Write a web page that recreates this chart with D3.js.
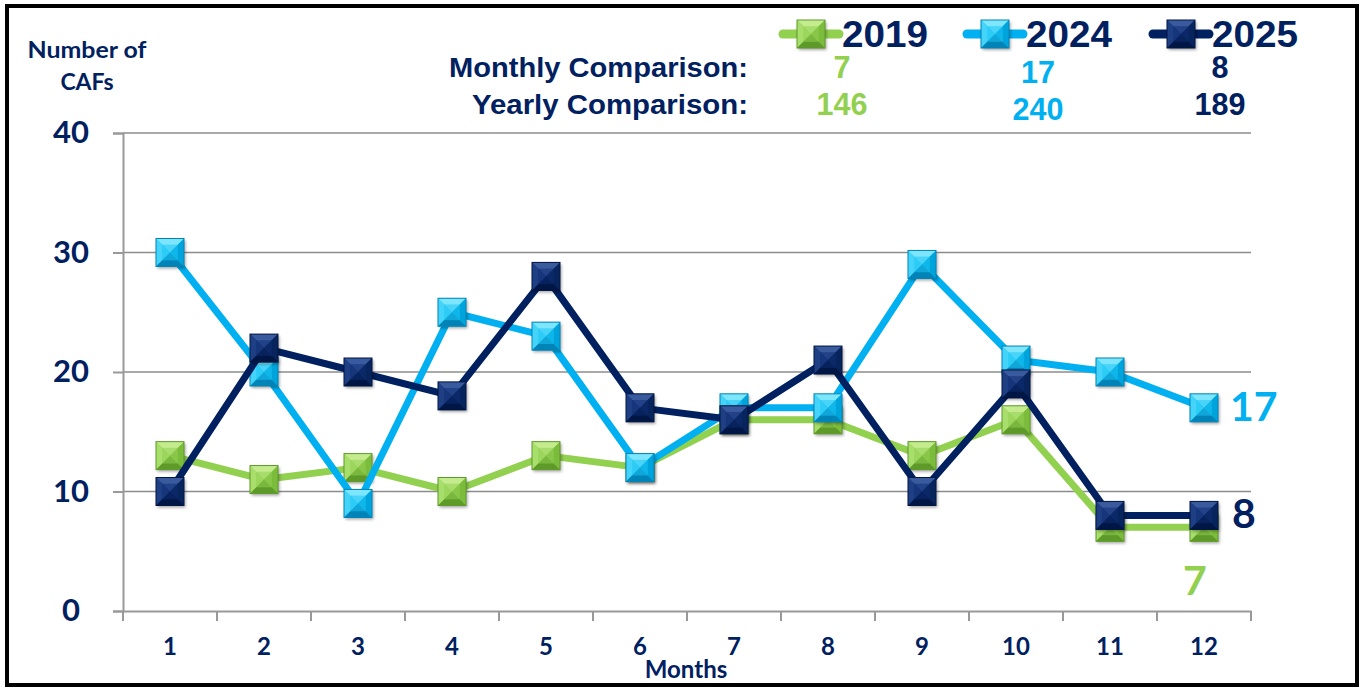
<!DOCTYPE html>
<html>
<head>
<meta charset="utf-8">
<script src="https://cdn.jsdelivr.net/npm/d3@7"></script>
<style>
  body { margin: 0; background: #fff; }
  svg { display: block; }
  .tick text { font-family: Lato, "Open Sans", sans-serif; font-weight: 700; fill: #002060; }
</style>
</head>
<body>
<div id="chart"></div>
<script>
// data
var months = ['1', '2', '3', '4', '5', '6', '7', '8', '9', '10', '11', '12'];
var years = ['2019', '2024', '2025'];
var values2019 = [13, 11, 12, 10, 13, 12, 16, 16, 13, 16, 7, 7];
var values2024 = [30, 20, 9, 25, 23, 12, 17, 17, 29, 21, 20, 17];
var values2025 = [10, 22, 20, 18, 28, 17, 16, 21, 10, 19, 8, 8];
var monthlyComparison = [7, 17, 8];
var yearlyComparison = [146, 240, 189];
var yTicks = [0, 10, 20, 30, 40];

var W = 1363, H = 688;
var margin = {top: 133, right: 112, bottom: 77, left: 123};
var width = W - margin.left - margin.right,
    height = H - margin.top - margin.bottom;

var navy = '#002060';
var colors = {
  '2019': {line: '#92D050', base: '#92d050', top: '#c4ec8e', left: '#a8de6c', right: '#7cbc3c', bottom: '#5e9a2a'},
  '2024': {line: '#00B0F0', base: '#1cc4f4', top: '#7ee6fc', left: '#44d4fa', right: '#00a4dc', bottom: '#0084b8'},
  '2025': {line: '#002060', base: '#0e2e72', top: '#3a5a9e', left: '#1f3f84', right: '#08245c', bottom: '#001644'}
};

var series = [
  {name: '2019', values: values2019},
  {name: '2024', values: values2024},
  {name: '2025', values: values2025}
];

var svg = d3.select('#chart').append('svg')
  .attr('width', W)
  .attr('height', H);

// frame
svg.append('rect')
  .attr('x', 7).attr('y', 6)
  .attr('width', 1350).attr('height', 679)
  .attr('fill', 'none')
  .attr('stroke', '#000')
  .attr('stroke-width', 4);

var defs = svg.append('defs');
var shadow = defs.append('filter').attr('id', 'shadow')
  .attr('x', '-30%').attr('y', '-30%').attr('width', '160%').attr('height', '160%');
shadow.append('feDropShadow')
  .attr('dx', 1.5).attr('dy', 2).attr('stdDeviation', 1.5)
  .attr('flood-color', '#000').attr('flood-opacity', 0.35);

var chart = svg.append('g')
  .attr('transform', 'translate(' + margin.left + ',' + margin.top + ')');

var x = d3.scaleBand().domain(months).range([0, width]);
var y = d3.scaleLinear().domain([0, 40]).range([height, 0]);

// gridlines
chart.append('g').selectAll('line')
  .data(yTicks.slice(1))
  .enter().append('line')
  .attr('x1', 0).attr('x2', width)
  .attr('y1', function(d) { return y(d); })
  .attr('y2', function(d) { return y(d); })
  .attr('stroke', '#8c8c8c')
  .attr('stroke-width', 1.5);

// y axis
var yAxis = chart.append('g')
  .call(d3.axisLeft(y).tickValues(yTicks).tickSize(10).tickPadding(28));
yAxis.select('.domain').attr('stroke', '#999').attr('stroke-width', 2);
yAxis.selectAll('.tick line').attr('stroke', '#999').attr('stroke-width', 2);
yAxis.selectAll('.tick text')
  .attr('font-size', 31)
  .attr('text-anchor', 'middle')
  .attr('x', -52);

// x axis, ticks sit between the months
var xAxis = chart.append('g')
  .attr('transform', 'translate(0,' + height + ')')
  .call(d3.axisBottom(x).tickSize(0).tickPadding(27));
xAxis.select('.domain').attr('stroke', '#999').attr('stroke-width', 2);
xAxis.selectAll('.tick text').attr('font-size', 24);
xAxis.append('g').selectAll('line')
  .data(d3.range(months.length + 1))
  .enter().append('line')
  .attr('x1', function(i) { return i * x.step(); })
  .attr('x2', function(i) { return i * x.step(); })
  .attr('y1', 0).attr('y2', 10)
  .attr('stroke', '#999')
  .attr('stroke-width', 2);

svg.append('text')
  .attr('x', 686).attr('y', 678)
  .attr('text-anchor', 'middle')
  .attr('font-family', 'Lato, sans-serif')
  .attr('font-weight', 700)
  .attr('font-size', 24)
  .attr('fill', navy)
  .text('Months');

var yLabel = svg.append('text')
  .attr('text-anchor', 'middle')
  .attr('font-family', 'Lato, sans-serif')
  .attr('font-weight', 700)
  .attr('font-size', 23)
  .attr('fill', navy);
yLabel.append('tspan').attr('x', 87).attr('y', 58)
  .attr('textLength', 119).attr('lengthAdjust', 'spacingAndGlyphs').text('Number of');
yLabel.append('tspan').attr('x', 87).attr('y', 90).text('CAFs');

// bevelled square marker
function marker(g, c, s) {
  var h = s / 2, b = s * 0.22;
  g.append('rect')
    .attr('x', -h).attr('y', -h).attr('width', s).attr('height', s)
    .attr('fill', c.base)
    .attr('filter', 'url(#shadow)');
  var facets = [
    {pts: [[-h, -h], [h, -h], [0, 0]], fill: c.top},
    {pts: [[-h, -h], [-h, h], [0, 0]], fill: c.left},
    {pts: [[h, -h], [h, h], [0, 0]], fill: c.right},
    {pts: [[-h, h], [h, h], [0, 0]], fill: c.bottom}
  ];
  g.selectAll('polygon')
    .data(facets)
    .enter().append('polygon')
    .attr('points', function(d) { return d.pts.map(function(p) { return p.join(','); }).join(' '); })
    .attr('fill', function(d) { return d.fill; });
  g.append('rect')
    .attr('x', -h + b).attr('y', -h + b).attr('width', s - 2 * b).attr('height', s - 2 * b)
    .attr('fill', c.base)
    .attr('opacity', 0.55);
  g.append('rect')
    .attr('x', -h).attr('y', -h).attr('width', s).attr('height', s)
    .attr('fill', 'none')
    .attr('stroke', c.bottom)
    .attr('stroke-width', 1);
}

var line = d3.line()
  .x(function(d, i) { return x(months[i]) + x.bandwidth() / 2; })
  .y(function(d) { return y(d); });

series.forEach(function(s) {
  var c = colors[s.name];
  var g = chart.append('g');
  g.append('path')
    .datum(s.values)
    .attr('d', line)
    .attr('fill', 'none')
    .attr('stroke', c.line)
    .attr('stroke-width', 7)
    .attr('stroke-linejoin', 'round');
  g.selectAll('.pt')
    .data(s.values)
    .enter().append('g')
    .attr('class', 'pt')
    .attr('transform', function(d, i) {
      return 'translate(' + (x(months[i]) + x.bandwidth() / 2) + ',' + y(d) + ')';
    })
    .each(function() { marker(d3.select(this), c, 28); });
});

// end labels
var last = months.length - 1;
var endX = x(months[last]) + x.bandwidth() / 2;
var endLabels = [
  {name: '2024', dx: 26, dy: 13, anchor: 'start'},
  {name: '2025', dx: 28, dy: 13, anchor: 'start'},
  {name: '2019', dx: -9, dy: 68, anchor: 'middle'}
];
endLabels.forEach(function(l) {
  var s = series.filter(function(d) { return d.name === l.name; })[0];
  chart.append('text')
    .attr('x', endX + l.dx)
    .attr('y', y(s.values[last]) + l.dy)
    .attr('text-anchor', l.anchor)
    .attr('font-family', 'Lato, sans-serif')
    .attr('font-weight', 700)
    .attr('font-size', 41)
    .attr('fill', colors[l.name].line)
    .text(s.values[last]);
});

// legend and comparison table
var legendX = [811, 995, 1181];
var legend = svg.append('g');
years.forEach(function(name, i) {
  var c = colors[name];
  var g = legend.append('g').attr('transform', 'translate(' + legendX[i] + ',34)');
  g.append('line')
    .attr('x1', -28).attr('x2', 28)
    .attr('stroke', c.line)
    .attr('stroke-width', 9)
    .attr('stroke-linecap', 'round');
  marker(g.append('g'), c, 28);
  legend.append('text')
    .attr('x', legendX[i] + 31)
    .attr('y', 47)
    .attr('font-family', '"Liberation Sans", Arial, sans-serif')
    .attr('font-weight', 700)
    .attr('font-size', 37)
    .attr('textLength', 86)
    .attr('lengthAdjust', 'spacingAndGlyphs')
    .attr('fill', navy)
    .text(name);
});

var rowLabels = ['Monthly Comparison:', 'Yearly Comparison:'];
var rowLength = [299, 276];
var rowY = [78, 115];
rowLabels.forEach(function(t, j) {
  svg.append('text')
    .attr('x', 748).attr('y', rowY[j] - 1)
    .attr('text-anchor', 'end')
    .attr('font-family', '"Liberation Sans", Arial, sans-serif')
    .attr('font-weight', 700)
    .attr('font-size', 27)
    .attr('textLength', rowLength[j])
    .attr('lengthAdjust', 'spacingAndGlyphs')
    .attr('fill', navy)
    .text(t);
});

var valueX = [842, 1038, 1220];
var valueShift = [0, 5, 0];
[monthlyComparison, yearlyComparison].forEach(function(arr, j) {
  arr.forEach(function(v, i) {
    svg.append('text')
      .attr('x', valueX[i])
      .attr('y', rowY[j] + valueShift[i])
      .attr('text-anchor', 'middle')
      .attr('font-family', '"Liberation Sans", Arial, sans-serif')
      .attr('font-weight', 700)
      .attr('font-size', 31)
      .attr('textLength', String(v).length * 17)
      .attr('lengthAdjust', 'spacingAndGlyphs')
      .attr('fill', colors[years[i]].line)
      .text(v);
  });
});
</script>
</body>
</html>
